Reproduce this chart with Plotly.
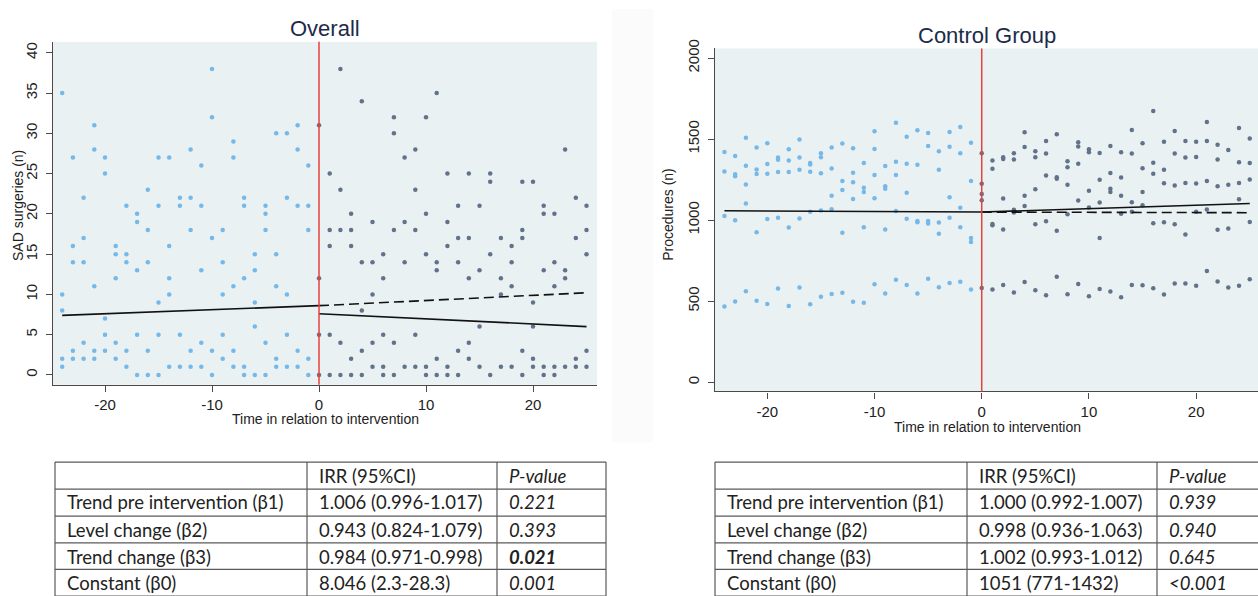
import plotly.graph_objects as go

W, H = 1258, 596

# ---------------- data ----------------
pre_times = list(range(-24, 0))
post_times = list(range(0, 26))

overall_pre = [
    [35, 10, 8, 2, 1], [27, 16, 14, 3, 2], [22, 17, 14, 4, 2], [31, 28, 11, 3, 2],
    [27, 25, 7, 5, 3], [16, 15, 12, 4, 2], [21, 15, 14, 3, 1], [20, 19, 13, 5, 0],
    [23, 18, 14, 3, 0], [27, 21, 9, 5, 0], [27, 16, 12, 10, 1], [22, 21, 5, 1],
    [28, 22, 18, 3, 1], [26, 21, 13, 4, 1], [38, 32, 17, 3, 0], [18, 14, 10, 5, 2],
    [29, 27, 11, 3, 1], [22, 21, 12, 1, 0], [15, 13, 9, 6, 0], [21, 20, 18, 4, 0],
    [30, 15, 11, 2, 1], [30, 22, 10, 5, 1], [31, 28, 21, 3, 1], [26, 21, 18, 2, 0],
]
overall_post = [
    [31, 12, 5, 0], [25, 18, 16, 5, 0], [38, 23, 18, 4, 0], [20, 18, 16, 2, 0],
    [34, 14, 8, 3, 0], [19, 14, 10, 4, 1], [15, 12, 5, 1, 0], [32, 30, 18, 4, 0],
    [27, 19, 14, 1], [28, 23, 18, 5, 1], [32, 20, 15, 1, 0], [35, 14, 13, 2, 0],
    [25, 19, 16, 1, 0], [21, 17, 14, 3, 0], [25, 17, 12, 4, 2], [21, 13, 6, 1],
    [25, 24, 15, 0], [17, 12, 10, 1], [16, 14, 11, 1], [24, 18, 17, 3, 0],
    [24, 9, 6, 2, 1], [21, 20, 13, 1, 0], [20, 14, 11, 1, 0], [28, 13, 12, 1],
    [22, 17, 2, 1], [21, 18, 15, 3, 1],
]
control_pre = [
    [1421, 1301, 1026, 468], [1396, 1283, 1271, 999, 499], [1508, 1336, 1220, 1103, 562],
    [1449, 1313, 1285, 926, 503], [1475, 1346, 1287, 1007, 483], [1386, 1372, 1297, 1015, 578],
    [1437, 1368, 1297, 955, 471], [1498, 1386, 1311, 1011, 584], [1352, 1344, 1299, 1052, 481],
    [1413, 1388, 1289, 1060, 527], [1449, 1319, 1151, 1068, 545], [1473, 1242, 1186, 922, 552],
    [1443, 1293, 1234, 1131, 497], [1352, 1200, 1174, 957, 491], [1548, 1439, 1279, 1135, 604],
    [1334, 1210, 1194, 943, 547], [1601, 1360, 1279, 1056, 633], [1514, 1348, 1169, 1009, 600],
    [1554, 1342, 995, 987, 547], [1538, 1457, 995, 979, 639], [1425, 1311, 985, 916, 586],
    [1544, 1453, 1141, 1015, 612], [1575, 1413, 1076, 957, 620], [1477, 1242, 890, 866, 572],
]
control_post = [
    [1413, 1224, 1161, 1123, 582], [1368, 1317, 977, 969, 572], [1388, 1378, 1133, 943, 600],
    [1413, 1374, 1064, 1048, 554], [1542, 1451, 1151, 1088, 618], [1425, 1388, 1190, 975, 568],
    [1488, 1411, 1275, 993, 537], [1530, 1265, 1255, 934, 651], [1364, 1327, 1218, 1036, 543],
    [1481, 1455, 1348, 1121, 606], [1437, 1419, 1182, 1078, 531], [1415, 1249, 1109, 890, 576],
    [1457, 1291, 1194, 1174, 560], [1419, 1263, 1151, 1040, 525], [1556, 1411, 1111, 1052, 600],
    [1475, 1321, 1174, 1092, 598], [1674, 1354, 1287, 981, 580], [1484, 1311, 1228, 987, 541],
    [1550, 1411, 1214, 975, 610], [1488, 1386, 1230, 912, 610], [1484, 1390, 1226, 1052, 596],
    [1605, 1488, 1242, 1066, 687], [1465, 1374, 1210, 941, 622], [1433, 1218, 949, 584],
    [1569, 1358, 1230, 1129, 596], [1504, 1352, 1251, 989, 635],
]

# fitted model lines
fit_pre_t = [-24, 0]
fit_post_t = [0, 25]
overall_fit_pre = [7.4, 8.6]
overall_fit_post = [7.6, 6.0]
overall_fit_cf = [8.6, 10.2]
control_fit_pre = [1058, 1050]
control_fit_post = [1050, 1103]
control_fit_cf = [1050, 1046]

x_ticks = [-20, -10, 0, 10, 20]
x_tick_labels = ["-20", "-10", "0", "10", "20"]
overall_y_ticks = [0, 5, 10, 15, 20, 25, 30, 35, 40]
control_y_ticks = [0, 500, 1000, 1500, 2000]

table_header = ["", "IRR (95%CI)", "P-value"]
table_terms = ["Trend pre intervention (β1)", "Level change (β2)",
               "Trend change (β3)", "Constant (β0)"]
overall_irr = ["1.006 (0.996-1.017)", "0.943 (0.824-1.079)",
               "0.984 (0.971-0.998)", "8.046 (2.3-28.3)"]
overall_p = ["0.221", "0.393", "0.021", "0.001"]
overall_p_bold = [False, False, True, False]
control_irr = ["1.000 (0.992-1.007)", "0.998 (0.936-1.063)",
               "1.002 (0.993-1.012)", "1051 (771-1432)"]
control_p = ["0.939", "0.940", "0.645", "<0.001"]
control_p_bold = [False, False, False, False]

# ---------------- styles ----------------
PRE_COLOR = "#76b8e8"
POST_COLOR = "#61738b"
BG = "#e9f1f3"
RED = "#e8413c"
AXIS_COLOR = "#4a4a4a"
FONT = "Liberation Sans, Arial, sans-serif"
TFONT = "Lato, Open Sans, sans-serif"
TSIZE = 18.5


def px(x):
    return x / W


def py(y):
    return 1 - y / H


def flat(times, groups):
    xs, ys = [], []
    for t, vals in zip(times, groups):
        for v in vals:
            xs.append(t)
            ys.append(v)
    return xs, ys


fig = go.Figure()

panels = [
    dict(xa="x", ya="y", pre=overall_pre, post=overall_post,
         fp=overall_fit_pre, fpo=overall_fit_post, fcf=overall_fit_cf),
    dict(xa="x2", ya="y2", pre=control_pre, post=control_post,
         fp=control_fit_pre, fpo=control_fit_post, fcf=control_fit_cf),
]

for p in panels:
    x, y = flat(pre_times, p["pre"])
    fig.add_trace(go.Scatter(x=x, y=y, mode="markers", xaxis=p["xa"], yaxis=p["ya"],
                             marker=dict(color=PRE_COLOR, size=4.5), showlegend=False))
    x, y = flat(post_times, p["post"])
    fig.add_trace(go.Scatter(x=x, y=y, mode="markers", xaxis=p["xa"], yaxis=p["ya"],
                             marker=dict(color=POST_COLOR, size=4.5), showlegend=False))
    fig.add_trace(go.Scatter(x=fit_pre_t, y=p["fp"], mode="lines", xaxis=p["xa"], yaxis=p["ya"],
                             line=dict(color="#111111", width=1.6), showlegend=False))
    fig.add_trace(go.Scatter(x=fit_post_t, y=p["fcf"], mode="lines", xaxis=p["xa"], yaxis=p["ya"],
                             line=dict(color="#111111", width=1.6, dash="10px,5px"), showlegend=False))
    fig.add_trace(go.Scatter(x=fit_post_t, y=p["fpo"], mode="lines", xaxis=p["xa"], yaxis=p["ya"],
                             line=dict(color="#111111", width=1.6), showlegend=False))

axis_common = dict(showgrid=False, zeroline=False, showline=True, linecolor=AXIS_COLOR,
                   linewidth=1.3, ticks="outside", ticklen=6, tickcolor=AXIS_COLOR,
                   tickfont=dict(family=FONT, size=15, color="#222222"))

fig.update_layout(
    width=W, height=H, margin=dict(l=0, r=0, t=0, b=0),
    paper_bgcolor="white", plot_bgcolor=BG, showlegend=False,
    xaxis=dict(domain=[px(53), px(597)], range=[-24.86, 25.98], tickvals=x_ticks,
               ticktext=x_tick_labels, anchor="y", **axis_common),
    yaxis=dict(domain=[py(381.5), py(33.3)], range=[-1.22, 41.37], tickvals=overall_y_ticks,
               tickangle=-90, anchor="x", ticklabelstandoff=3, **axis_common),
    xaxis2=dict(domain=[px(715), 1.0], range=[-24.88, 25.77], tickvals=x_ticks,
                ticktext=x_tick_labels, anchor="y2", **axis_common),
    yaxis2=dict(domain=[py(388.3), py(40)], range=[-56.5, 2059.6], tickvals=control_y_ticks,
                tickangle=-90, anchor="x2", ticklabelstandoff=3, **axis_common),
)

shapes = []
# faint strip between the two images
shapes.append(dict(type="rect", xref="paper", yref="paper", x0=px(612), x1=px(653),
                   y0=py(440), y1=1, fillcolor="#fbfbfb", line=dict(width=0), layer="below"))
for xa in ["x", "x2"]:
    shapes.append(dict(type="line", xref=xa, yref=f"{'y' if xa == 'x' else 'y2'} domain",
                       x0=0, x1=0, y0=0, y1=1, line=dict(color=RED, width=1.5)))

annotations = []


def ann(x, y, text, size, color="#222222", family=FONT, angle=0, xanchor="center"):
    annotations.append(dict(x=x, y=y, xref="paper", yref="paper", text=text, showarrow=False,
                            font=dict(family=family, size=size, color=color), textangle=angle,
                            xanchor=xanchor, yanchor="middle"))


ann(px(325), py(20), "Overall", 22, color="#1c2b4a")
ann(px(987), py(27), "Control Group", 22, color="#1c2b4a")
ann(px(18), py(200), "SAD surgeries (n)", 14, angle=-90)
ann(px(668), py(209), "Procedures (n)", 14, angle=-90)
ann(px(325), py(416), "Time in relation to intervention", 14)
ann(px(987), py(424), "Time in relation to intervention", 14)

# ---------------- tables ----------------
row_lines = [460, 487.5, 515, 542, 569, 596]
row_centers = [474, 501, 529, 556, 583]


def draw_table(cols, right, irr, pvals, bold):
    x_lines = cols + [right]
    for yl in row_lines:
        shapes.append(dict(type="line", xref="paper", yref="paper", x0=px(cols[0]), x1=px(right),
                           y0=py(yl), y1=py(yl), line=dict(color="#5a5a5a", width=1.2)))
    for xl in x_lines:
        shapes.append(dict(type="line", xref="paper", yref="paper", x0=px(xl), x1=px(xl),
                           y0=py(row_lines[0]), y1=py(row_lines[-1] + 2),
                           line=dict(color="#5a5a5a", width=1.2)))
    ann(px(cols[1] + 10), py(row_centers[0]), table_header[1], TSIZE, family=TFONT, xanchor="left")
    ann(px(cols[2] + 10), py(row_centers[0]), "<i>" + table_header[2] + "</i>", TSIZE,
        family=TFONT, xanchor="left")
    for i, term in enumerate(table_terms):
        yc = py(row_centers[i + 1])
        ann(px(cols[0] + 10), yc, term, TSIZE, family=TFONT, xanchor="left")
        ann(px(cols[1] + 10), yc, irr[i], TSIZE, family=TFONT, xanchor="left")
        pv = pvals[i].replace("<", "&lt;")
        txt = "<i>" + pv + "</i>"
        if bold[i]:
            txt = "<b>" + txt + "</b>"
        ann(px(cols[2] + 10), yc, txt, TSIZE, family=TFONT, xanchor="left")


draw_table([55, 307, 497], 606, overall_irr, overall_p, overall_p_bold)
draw_table([715, 967, 1157], 1262, control_irr, control_p, control_p_bold)

fig.update_layout(shapes=shapes, annotations=annotations)
fig.write_html(
    "out.html",
    config={"displayModeBar": False},
    post_script="document.body.style.margin='0';document.body.style.padding='0';"
                "document.body.style.overflow='hidden';",
)
